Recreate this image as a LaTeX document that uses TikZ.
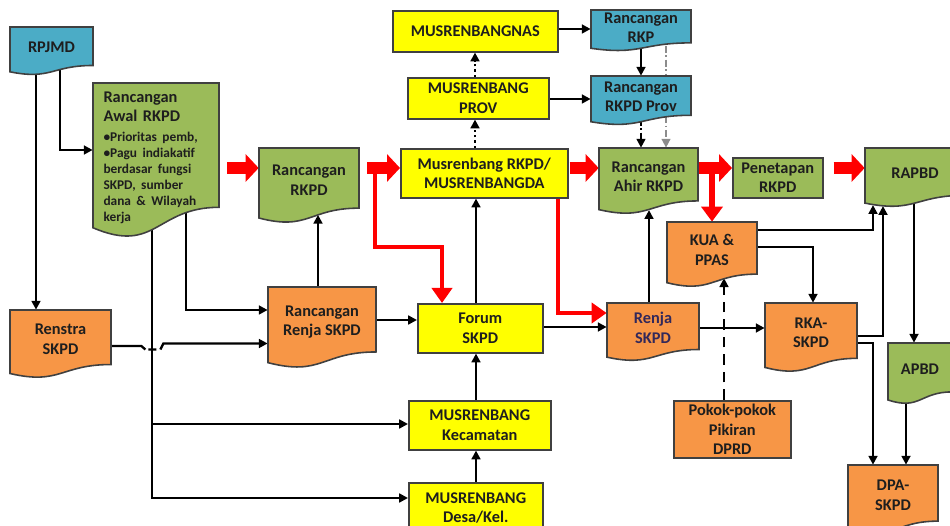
\documentclass[tikz,border=0pt]{standalone}
\usepackage{fontspec}
\setmainfont{Carlito}
\usetikzlibrary{arrows.meta,backgrounds,calc}
\definecolor{aqua}{RGB}{75,172,198}
\definecolor{grn}{RGB}{155,187,89}
\definecolor{orng}{RGB}{247,150,70}
\definecolor{yel}{RGB}{255,255,0}
\definecolor{edge}{RGB}{64,64,64}
\definecolor{ink}{RGB}{30,30,30}
\definecolor{navy}{RGB}{50,40,90}
\definecolor{rd}{RGB}{255,0,0}

\newcommand\docpath[5]{%
  \filldraw[fill=#5,draw=edge,line width=0.9pt] (#1,#2) -- ({#1+#3},#2) -- ({#1+#3},{#2+0.802*#4})
    .. controls ({#1+0.5*#3},{#2+0.802*#4}) and ({#1+0.5*#3},{#2+1.1075*#4}) .. (#1,{#2+0.934*#4}) -- cycle;}

\tikzset{
  lbl/.style={font=\fontsize{9.3}{11}\selectfont\bfseries, text=ink, align=center, inner sep=0pt},
  rbox/.style={lbl, draw=edge, line width=0.9pt, anchor=north west},
  ln/.style={draw=black, line width=1.3pt},
  arr/.style={ln, -{Triangle[length=5pt,width=5pt]}},
  dotarr/.style={arr, dash pattern=on 1.4pt off 1.6pt},
  dasharr/.style={arr, dash pattern=on 6pt off 4pt},
  dotdash/.style={arr, line width=1.1pt, dash pattern=on 4pt off 1.5pt on 1pt off 1.5pt},
  blockarr/.style={draw=rd, line width=0.24cm, -{Triangle[length=0.26cm,width=0.54cm]}},
  droparr/.style={draw=rd, line width=0.13cm, -{Triangle[length=0.3cm,width=0.42cm]}},
  redline/.style={draw=rd, line width=2.2pt, -{Triangle[length=0.3cm,width=0.4cm]}}
}

\begin{document}
\begin{tikzpicture}[x=0.02cm,y=-0.02cm]
    \useasboundingbox (0,0) rectangle (950,526);
    \foreach \nm/\px/\py/\pw/\ph/\col/\txt in {
      nas/392/10/165/41/yel/{MUSRENBANGNAS},
      prov/407/77/141/41/yel/{MUSRENBANG\\PROV},
      musda/400/148/167/49/yel/{Musrenbang RKPD/\\MUSRENBANGDA},
      forum/417/303/125/49/yel/{Forum\\SKPD},
      kec/408/400/142/49/yel/{MUSRENBANG\\Kecamatan},
      desa/408/482/134/50/yel/{MUSRENBANG\\Desa/Kel.},
      pen/732/157/90/40/grn/{Penetapan\\RKPD},
      pokir/673/400/117/57/orng/{Pokok-pokok\\Pikiran\\DPRD}}{
      \node[rbox, fill=\col, minimum width=\pw*0.02cm, minimum height=\ph*0.02cm]
        (\nm) at (\px,\py) {\txt};
    }
    \foreach \nm/\px/\py/\pw/\ph/\col/\tc/\txt in {
      rpjmd/10/27/83/48/aqua/ink/{RPJMD},
      renstra/10/310/101/68/orng/ink/{Renstra\\SKPD},
      rrenja/268/287/108/81/orng/ink/{Rancangan\\Renja SKPD},
      rkpd/259/148/100/75/grn/ink/{Rancangan\\RKPD},
      rkp/591/10/100/41/aqua/ink/{Rancangan\\RKP},
      rkpdprov/591/76/100/49/aqua/ink/{Rancangan\\RKPD Prov},
      ahir/599/148/99/66/grn/ink/{Rancangan\\Ahir RKPD},
      rapbd/865/148/100/59/grn/ink/{RAPBD},
      kua/667/222/90/65/orng/ink/{KUA \&\\PPAS},
      renja/607/303/92/58/orng/navy/{Renja\\SKPD},
      rka/765/303/92/69/orng/ink/{RKA-\\SKPD},
      apbd/888/343/64/61/grn/ink/{APBD},
      dpa/848/465/90/70/orng/ink/{DPA-\\SKPD}}{
      \docpath{\px}{\py}{\pw}{\ph}{\col}
      \node[lbl, text=\tc, minimum width=\pw*0.02cm, minimum height=0.86*\ph*0.02cm]
        (\nm) at ({\px+0.5*\pw},{\py+0.43*\ph}) {\txt};
    }
    \docpath{93}{83}{126}{155}{grn}
    \node[lbl, align=left, text width=2.1cm, minimum width=2.52cm, minimum height=2.66cm]
      (awal) at (156,158) {Rancangan\\Awal RKPD\\\parbox[t]{2.1cm}{\fontsize{7.6}{9.2}\selectfont\raggedright
      •Prioritas pemb,\\•Pagu indiakatif\\berdasar fungsi\\SKPD, sumber\\dana \& Wilayah\\kerja}};
    \begin{scope}[on background layer]
    \draw[arr] (rpjmd.center -| 36,0) -- (renstra.north -| 36,0);
    \draw[arr] (rpjmd.center -| 60,0) |- (awal.west |- 0,150);
    \draw[arr] (awal.center -| 186,0) |- (rrenja.west |- 0,310);
    \draw[arr] (awal.center -| 152,0) |- (kec.west |- 0,424);
    \draw[arr] (awal.center -| 152,0) |- (desa.west |- 0,498);
    \draw[arr] (renstra.east |- 0,346) -- ++(30,0) -- ++(4,3.5) ++(3,0) -- ++(8,0)
      ++(4,0) -- ++(3,-6) -- (rrenja.west |- 0,343.5);
    \draw[arr] (rrenja.north -| 318,0) -- ($(rkpd.south -| 318,0)+(0,2)$);
    \draw[arr] (rrenja.east |- 0,320) -- (forum.west |- 0,320);
    \draw[arr] (forum.east |- 0,327) -- (renja.west |- 0,327);
    \draw[arr] (desa.north -| 476,0) -- (kec.south -| 476,0);
    \draw[arr] (kec.north -| 476,0) -- (forum.south -| 476,0);
    \draw[arr] (forum.north -| 476,0) -- (musda.south -| 476,0);
    \draw[dotarr] (musda.north -| 475,0) -- (prov.south -| 475,0);
    \draw[dotarr] (prov.north -| 475,0) -- (nas.south -| 475,0);
    \draw[arr] (nas.east |- 0,29) -- (rkp.west |- 0,29);
    \draw[arr] (prov.east |- 0,99) -- (rkpdprov.west |- 0,99);
    \draw[arr] (rkp.south -| 641,0) -- (rkpdprov.north -| 641,0);
    \draw[dotdash, draw=black!45, line width=0.9pt] (rkp.south -| 666,0) -- (ahir.north -| 666,0);
    \draw[dotdash] (rkpdprov.south -| 641,0) -- (ahir.north -| 641,0);
    \draw[arr] (renja.north -| 649,0) -- ($(ahir.south -| 649,0)+(0,5)$);
    \draw[arr] (renja.east |- 0,328) -- (rka.west |- 0,328);
    \draw[dasharr] (pokir.north -| 724,0) -- (kua.south -| 724,0);
    \draw[arr] (kua.east |- 0,230) -| ($(rapbd.south -| 873,0)+(0,6)$);
    \draw[arr] (kua.east |- 0,247) -| (rka.north -| 813,0);
    \draw[arr] (rka.east |- 0,336) -| ($(rapbd.south -| 883,0)+(0,7)$);
    \draw[arr] (rka.east |- 0,343) -| (dpa.north -| 873,0);
    \draw[arr] (rapbd.south -| 914,0) -- (apbd.north -| 914,0);
    \draw[arr] (apbd.south -| 906,0) -- (dpa.north -| 906,0);
    \draw[blockarr] ($(awal.east |- 0,168)+(8,0)$) -- (rkpd.west |- 0,168);
    \draw[blockarr] ($(rkpd.east |- 0,168)+(8,0)$) -- (musda.west |- 0,168);
    \draw[blockarr] ($(musda.east |- 0,168)+(1,0)$) -- (ahir.west |- 0,168);
    \draw[blockarr] (ahir.east |- 0,168) -- (pen.west |- 0,168);
    \draw[blockarr] ($(pen.east |- 0,168)+(10,0)$) -- (rapbd.west |- 0,168);
    \draw[droparr] (kua.north |- 0,172) -- (kua.north);
    \draw[redline] ($(rkpd.east |- 0,168)+(16,0)$) -- ++(0,79) -| (forum.north -| 442,0);
    \draw[redline] (musda.south -| 558,0) |- (renja.west |- 0,313);
    \end{scope}
\end{tikzpicture}
\end{document}
